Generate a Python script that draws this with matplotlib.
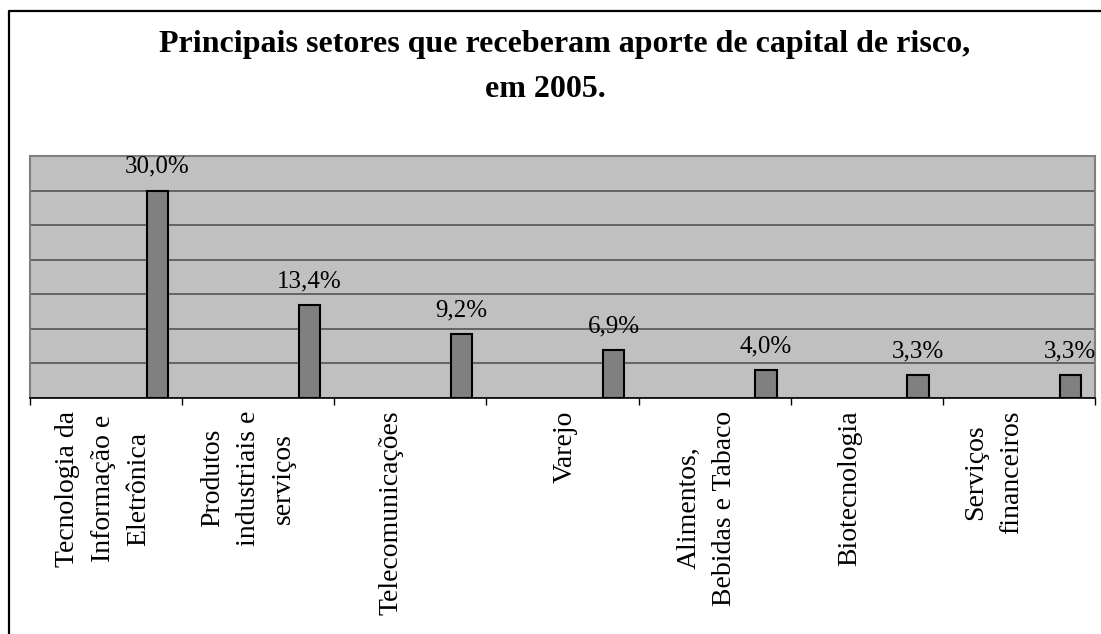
import matplotlib
matplotlib.use("Agg")
import matplotlib.pyplot as plt
from matplotlib.lines import Line2D

plt.rcParams['font.family'] = ['Liberation Serif', 'DejaVu Serif']

setores = ['Tecnologia da\nInformação e\nEletrônica',
           'Produtos\nindustriais e\nserviços',
           'Telecomunicações',
           'Varejo',
           'Alimentos,\nBebidas e Tabaco',
           'Biotecnologia',
           'Serviços\nfinanceiros']
valores = [30.0, 13.4, 9.2, 6.9, 4.0, 3.3, 3.3]
rotulos = ['30,0%', '13,4%', '9,2%', '6,9%', '4,0%', '3,3%', '3,3%']

W, H = 1101, 634
fig = plt.figure(figsize=(W / 100, H / 100), dpi=100)
ax = fig.add_axes([30 / W, 1 - 398 / H, (1095 - 30) / W, (398 - 156) / H])
ax.set_facecolor('#c0c0c0')

pos = list(range(len(valores)))
xbar = [p + 0.337 for p in pos]
ax.bar(xbar, valores, width=0.14, color='#808080', edgecolor='black', linewidth=1.5, zorder=3)

for x, v, r in zip(xbar, valores, rotulos):
    ax.annotate(r, (x, v), xytext=(0, 13), textcoords='offset points',
                ha='center', va='baseline', fontsize=18)

ax.set_xlim(-0.5, len(valores) - 0.5)
ax.set_ylim(0, 35)
ax.set_yticks(range(0, 36, 5))
ax.yaxis.grid(True, color='#555555', linewidth=1.2)
ax.set_axisbelow(True)
ax.tick_params(axis='y', left=False, labelleft=False)

# o Excel não centra exatamente os rótulos girados
desloc = [-0.02, -0.066, -0.125, 0.02, -0.053, -0.115, -0.165]
ax.set_xticks([p + d for p, d in zip(pos, desloc)])
ax.set_xticklabels(setores, rotation=90, fontsize=20, linespacing=1.55)
ax.set_xticks([p - 0.5 for p in pos] + [len(pos) - 0.5], minor=True)
ax.tick_params(axis='x', which='major', length=0, pad=9)
ax.tick_params(axis='x', which='minor', length=5, width=1, color='black', direction='out')

for s in ['left', 'right', 'top']:
    ax.spines[s].set_color('#808080')
    ax.spines[s].set_linewidth(1.5)
ax.spines['bottom'].set_color('black')
ax.spines['bottom'].set_linewidth(1.2)

fig.text(565 / W, 1 - 52 / H, 'Principais setores que receberam aporte de capital de risco,',
         ha='center', va='baseline', fontsize=23, fontweight='bold')
fig.text(545 / W, 1 - 97 / H, 'em 2005.', ha='center', va='baseline', fontsize=23, fontweight='bold')

# moldura externa do gráfico (só esquerda e topo aparecem)
fig.add_artist(Line2D([8.5 / W, 8.5 / W, 1.0], [0.0, 1 - 10.5 / H, 1 - 10.5 / H],
                      transform=fig.transFigure, color='black', linewidth=1.6))

fig.savefig('out.png', dpi=100)
